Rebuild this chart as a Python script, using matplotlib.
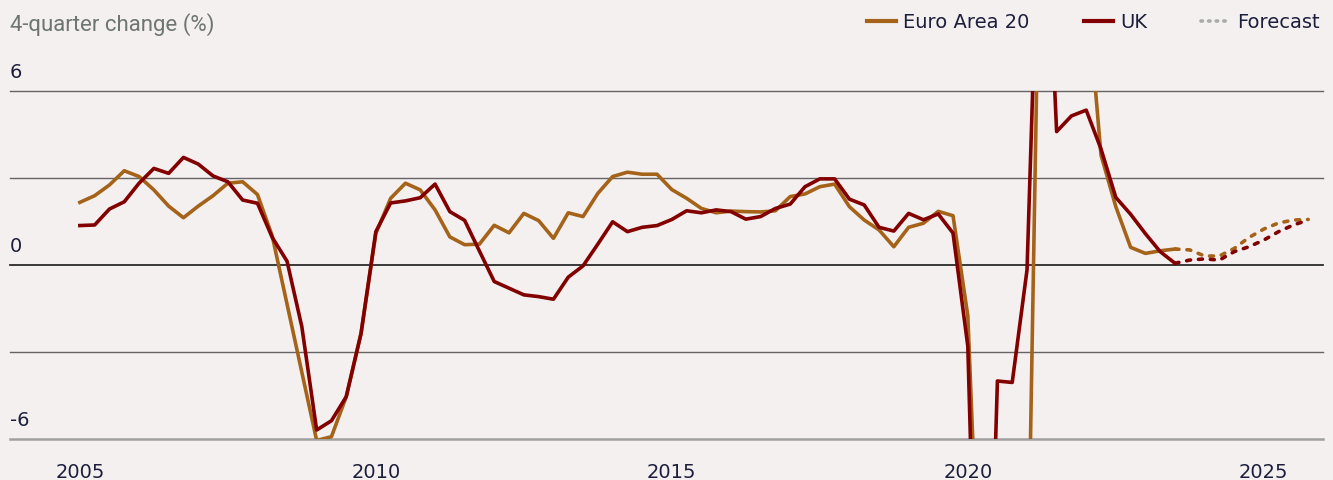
import matplotlib.pyplot as plt
from matplotlib.lines import Line2D
import numpy as np

# 4-quarter change (%), quarterly from 2005Q1 to 2023Q3
start_year = 2005
euro_area = [
    2.16, 2.39, 2.76, 3.25,
    3.05, 2.59, 2.03, 1.63,
    2.03, 2.39, 2.82, 2.87,
    2.43, 1.00, -1.35, -3.70,
    -6.05, -5.92, -4.54, -2.36,
    1.09, 2.30, 2.82, 2.59,
    1.90, 0.97, 0.70, 0.72,
    1.37, 1.11, 1.78, 1.53,
    0.92, 1.80, 1.67, 2.47,
    3.05, 3.20, 3.13, 3.13,
    2.60, 2.30, 1.95, 1.80,
    1.86, 1.84, 1.83, 1.87,
    2.36, 2.45, 2.70, 2.79,
    2.01, 1.55, 1.21, 0.63,
    1.30, 1.44, 1.85, 1.70,
    -1.75, -14.5, -9.0, -9.0,
    -13.0, 16.6, 14.0, 11.0,
    9.8, 3.79, 2.01, 0.61,
    0.40, 0.49, 0.55,
]
uk = [
    1.36, 1.38, 1.93, 2.18,
    2.82, 3.33, 3.16, 3.71,
    3.48, 3.07, 2.87, 2.24,
    2.13, 0.95, 0.13, -2.13,
    -5.69, -5.37, -4.54, -2.36,
    1.15, 2.14, 2.21, 2.32,
    2.79, 1.84, 1.54, 0.48,
    -0.57, -0.80, -1.03, -1.09,
    -1.18, -0.42, -0.03, 0.72,
    1.49, 1.15, 1.30, 1.36,
    1.57, 1.87, 1.80, 1.90,
    1.84, 1.58, 1.67, 1.95,
    2.10, 2.70, 2.97, 2.97,
    2.27, 2.07, 1.30, 1.17,
    1.78, 1.56, 1.76, 1.10,
    -2.80, -21.0, -4.00, -4.05,
    -0.17, 16.0, 4.60, 5.14,
    5.34, 4.00, 2.33, 1.75,
    1.08, 0.46, 0.06,
]

# forecast path, 2023Q3 to 2025Q4
forecast_start = 2023.5
euro_area_fc = [0.55, 0.52, 0.31, 0.31, 0.57, 0.95, 1.24, 1.45, 1.55, 1.57]
uk_fc = [0.06, 0.17, 0.21, 0.17, 0.46, 0.63, 0.86, 1.15, 1.38, 1.55]

grid_levels = [-6, -3, 0, 3, 6]
y_label_vals = [6, 0, -6]
y_label_text = ['6', '0', '-6']
year_ticks = [2005, 2010, 2015, 2020, 2025]
series_names = ['Euro Area 20', 'UK', 'Forecast']

bg = '#F5F0F0'
euro_col = '#A5631A'
uk_col = '#820000'
text_col = '#1B1F3B'


def quarters(first, n):
    return first + np.arange(n) * 0.25


fig = plt.figure(figsize=(13.33, 4.8), dpi=100, facecolor=bg)
ax = fig.add_axes([10 / 1333, 41 / 480, 1313 / 1333, 348 / 480])
ax.set_facecolor(bg)
ax.set_xlim(2003.82, 2026.0)
ax.set_ylim(-6, 6)
for s in ax.spines.values():
    s.set_visible(False)

for lvl in grid_levels:
    if lvl == 0:
        c, lw = '#2a2a2a', 1.3
    elif lvl == -6:
        c, lw = '#a0a0a0', 1.8
    else:
        c, lw = '#646464', 1.0
    ax.axhline(lvl, color=c, lw=lw, zorder=1, clip_on=False)

x_hist = quarters(start_year, len(uk))
x_fc = quarters(forecast_start, len(uk_fc))

ax.plot(x_hist, euro_area, color=euro_col, lw=2.6, zorder=3)
ax.plot(x_hist, uk, color=uk_col, lw=2.6, zorder=4)
ax.plot(x_fc, euro_area_fc, color=euro_col, lw=2.6, dashes=(1.1, 2.2),
        dash_capstyle='round', zorder=3)
ax.plot(x_fc, uk_fc, color=uk_col, lw=2.6, dashes=(1.1, 2.2),
        dash_capstyle='round', zorder=4)

# value labels sit just above their gridline, flush left
for v, t in zip(y_label_vals, y_label_text):
    ax.annotate(t, xy=(0, v), xycoords=('axes fraction', 'data'),
                xytext=(0, 9), textcoords='offset points', ha='left',
                va='baseline', fontsize=14, color=text_col)

ax.set_yticks([])
ax.set_xticks(year_ticks)
ax.set_xticklabels([str(y) for y in year_ticks])
ax.tick_params(axis='x', length=0, pad=17, labelsize=14, labelcolor=text_col)

fig.text(10 / 1333, 1 - 31 / 480, '4-quarter change (%)', fontfamily='Roboto',
         fontsize=16, color='#6E7672', va='baseline', ha='left')

handles = [
    Line2D([], [], color=euro_col, lw=3),
    Line2D([], [], color=uk_col, lw=3),
    Line2D([], [], color='#AAAAAA', lw=2.6, dashes=(0.4, 1.7), dash_capstyle='round'),
]
fig.legend(handles, series_names, loc='center right',
           bbox_to_anchor=(1320 / 1333, 1 - 22 / 480), ncol=3, frameon=False,
           fontsize=14, handlelength=1.5, handletextpad=0.35, columnspacing=2.8,
           borderaxespad=0, borderpad=0, labelcolor=text_col)

fig.savefig('out.png', dpi=100, facecolor=bg)
